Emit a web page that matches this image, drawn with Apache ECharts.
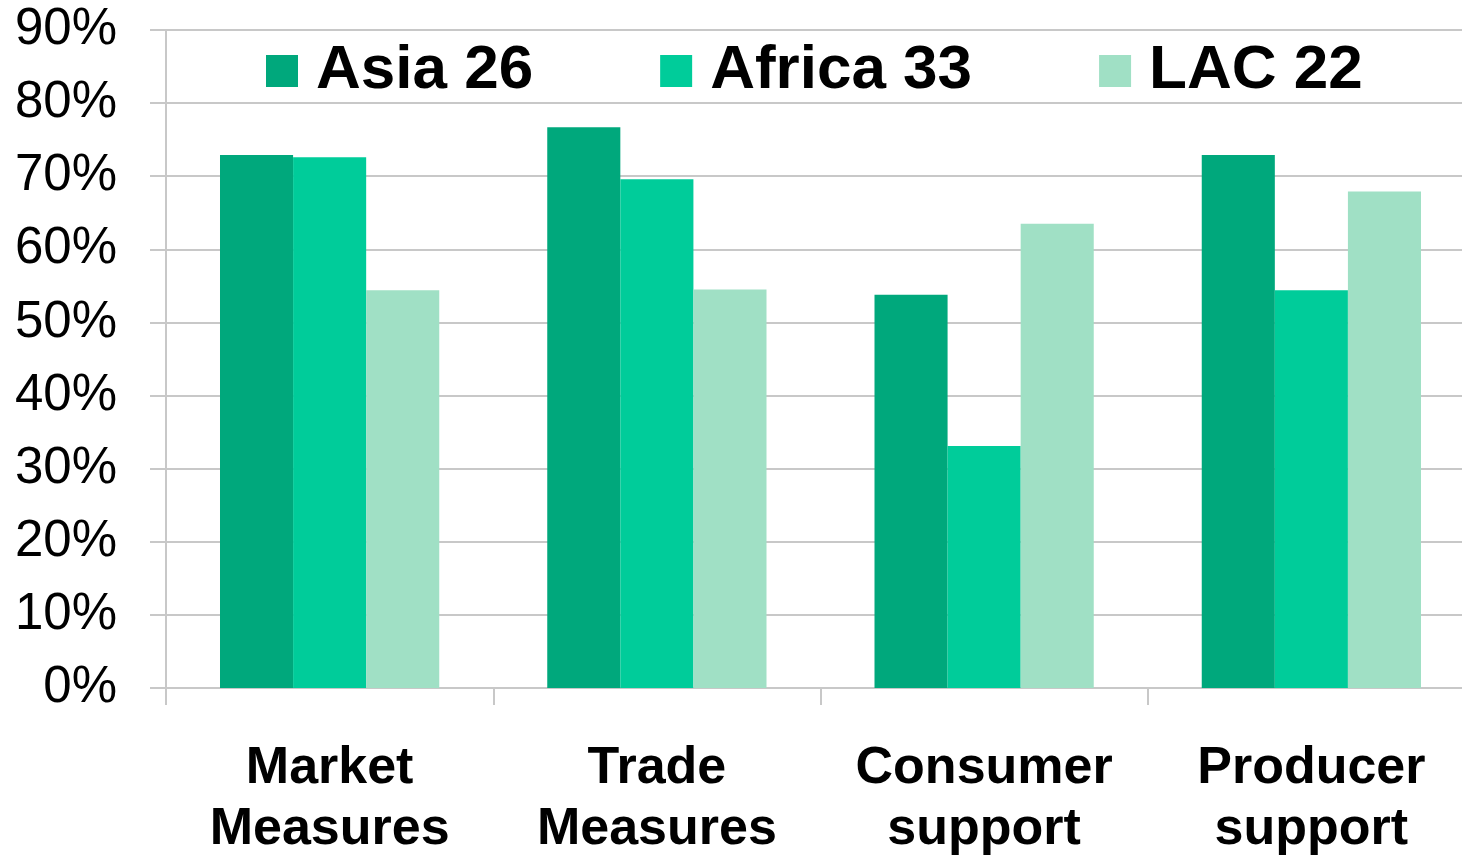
<!DOCTYPE html>
<html>
<head>
<meta charset="utf-8">
<script src="https://cdn.jsdelivr.net/npm/echarts@6/dist/echarts.min.js"></script>
<style>
  html, body { margin: 0; padding: 0; background: #fff; }
  #chart { width: 1462px; height: 857px; }
</style>
</head>
<body>
<div id="chart"></div>
<script>
// data
const categories = ['Market\nMeasures', 'Trade\nMeasures', 'Consumer\nsupport', 'Producer\nsupport']
const seriesNames = ['Asia 26', 'Africa 33', 'LAC 22']
const asia = [72.9, 76.7, 53.8, 72.9]
const africa = [72.6, 69.6, 33.1, 54.4]
const lac = [54.4, 54.5, 63.5, 67.9]
const yTicks = { min: 0, max: 90, step: 10 }

const colors = ['#00A87C', '#00CC9A', '#A0E0C5']
const gridGrey = '#c8c8c8'
const font = 'Liberation Sans, Arial, sans-serif'

const chart = echarts.init(document.getElementById('chart'))

const makeSeries = (name, data, i) => ({
  name: name,
  type: 'bar',
  data: data,
  barGap: 0,
  barCategoryGap: '33%',
  itemStyle: { color: colors[i] },
  animation: false
})

chart.setOption({
  color: colors,
  // plot area runs a little past the right edge, like the original
  grid: {
    left: 166,
    width: 1309,
    top: 30,
    height: 658,
    containLabel: false,
    outerBoundsMode: 'none'
  },
  legend: {
    data: seriesNames,
    left: 266,
    top: 40,
    padding: 0,
    itemWidth: 32,
    itemHeight: 32,
    itemGap: 127,
    icon: 'rect',
    textStyle: {
      fontFamily: font,
      fontWeight: 'bold',
      fontSize: 62,
      color: '#000',
      padding: [0, 0, 0, 13]
    }
  },
  xAxis: {
    type: 'category',
    data: categories,
    axisLine: { show: true, lineStyle: { color: gridGrey, width: 2 } },
    axisTick: { show: true, length: 17, lineStyle: { color: gridGrey, width: 2 } },
    axisLabel: {
      fontFamily: font,
      fontWeight: 'bold',
      fontSize: 52,
      lineHeight: 61,
      color: '#000',
      margin: 50,
      interval: 0
    }
  },
  yAxis: {
    type: 'value',
    min: yTicks.min,
    max: yTicks.max,
    interval: yTicks.step,
    axisLine: { show: true, lineStyle: { color: gridGrey, width: 2 } },
    axisTick: { show: true, length: 16, lineStyle: { color: gridGrey, width: 2 } },
    splitLine: { show: true, lineStyle: { color: gridGrey, width: 2 } },
    axisLabel: {
      formatter: '{value}%',
      fontFamily: font,
      fontSize: 51,
      color: '#000',
      margin: 49
    }
  },
  series: [
    makeSeries(seriesNames[0], asia, 0),
    makeSeries(seriesNames[1], africa, 1),
    makeSeries(seriesNames[2], lac, 2)
  ]
})
</script>
</body>
</html>
